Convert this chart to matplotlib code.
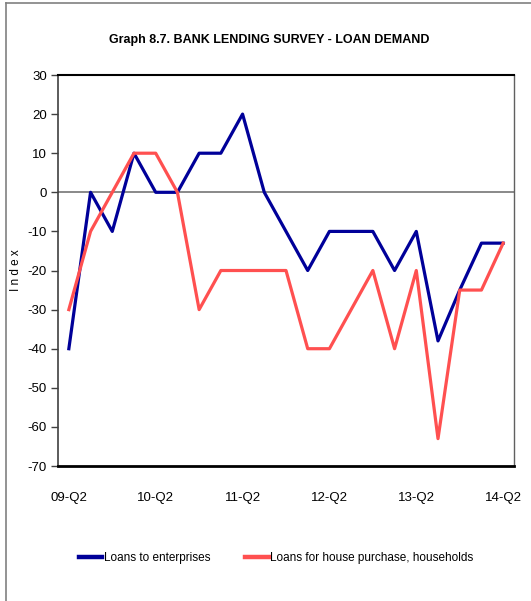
import matplotlib
matplotlib.use("Agg")
import matplotlib.pyplot as plt
from matplotlib.lines import Line2D

plt.rcParams['font.family'] = ['Liberation Sans', 'DejaVu Sans']
plt.rcParams['axes.unicode_minus'] = False

quarters = ["09-Q2", "09-Q3", "09-Q4", "10-Q1", "10-Q2", "10-Q3", "10-Q4",
            "11-Q1", "11-Q2", "11-Q3", "11-Q4", "12-Q1", "12-Q2", "12-Q3",
            "12-Q4", "13-Q1", "13-Q2", "13-Q3", "13-Q4", "14-Q1", "14-Q2"]
enterprises = [-40, 0, -10, 10, 0, 0, 10, 10, 20, 0, -10, -20, -10, -10,
               -10, -20, -10, -38, -25, -13, -13]
households = [-30, -10, 0, 10, 10, 0, -30, -20, -20, -20, -20, -40, -40, -30,
              -20, -40, -20, -63, -25, -25, -13]

fig = plt.figure(figsize=(5.31, 6.01), dpi=100)
ax = fig.add_axes([0.1092, 0.2246, 0.8588, 0.6506])

x = range(len(quarters))
ax.axhline(0, color="#808080", lw=1.3, zorder=1)
ax.plot(x, enterprises, color="#000099", lw=2.3, label="Loans to enterprises", zorder=2)
ax.plot(x, households, color="#FF5050", lw=2.3,
        label="Loans for house purchase, households", zorder=3)

ax.set_xlim(-0.5, len(quarters) - 0.5)
ax.set_ylim(-70, 30)
ax.set_yticks(range(-70, 31, 10))
ax.set_xticks(range(0, len(quarters), 4))
ax.set_xticklabels(quarters[::4])
ax.tick_params(axis="x", length=0, pad=19, labelsize=9.5)
ax.tick_params(axis="y", length=5, width=1, color="#404040", labelsize=9.5, pad=3)

ax.spines["top"].set_color("black")
ax.spines["top"].set_linewidth(1.5)
ax.spines["bottom"].set_color("black")
ax.spines["bottom"].set_linewidth(2)
ax.spines["left"].set_color("#404040")
ax.spines["left"].set_linewidth(1.2)
ax.spines["right"].set_color("#606060")
ax.spines["right"].set_linewidth(1)

ax.set_ylabel("I n d e x", fontsize=8.5)
ax.yaxis.set_label_coords(-0.08, 0.5)
fig.text(0.508, 0.933, "Graph 8.7. BANK LENDING SURVEY - LOAN DEMAND",
         ha="center", va="center", fontsize=9, fontweight="bold")

leg = fig.legend(loc="center", bbox_to_anchor=(0.52, 0.072), ncol=2, frameon=False,
                 fontsize=8.5, handlelength=2.0, handletextpad=0.1, columnspacing=3.0)
for handle in leg.legend_handles:
    handle.set_linewidth(3.2)

# outer chart frame
fig.add_artist(Line2D([6 / 531, 1], [1 - 3 / 601, 1 - 3 / 601],
                      transform=fig.transFigure, color="#808080", lw=1.2))
fig.add_artist(Line2D([6 / 531, 6 / 531], [0, 1 - 3 / 601],
                      transform=fig.transFigure, color="#808080", lw=1.2))

fig.savefig("out.png", dpi=100)
